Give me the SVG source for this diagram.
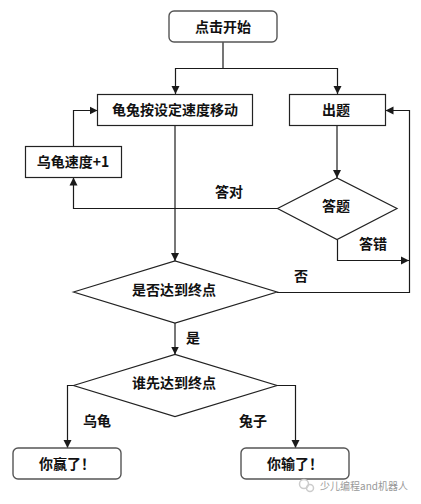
<svg xmlns="http://www.w3.org/2000/svg" width="421" height="504" viewBox="0 0 421 504">
<style>
.b{fill:#fff;stroke:#222;stroke-width:1.2}
.r{fill:#fff;stroke:#555;stroke-width:1.4}
.c{fill:none;stroke:#1a1a1a;stroke-width:1.2}
.g{stroke:#555;stroke-width:1.6}
text{font-family:"Noto Sans CJK SC","Liberation Sans",sans-serif;font-size:14px;font-weight:700;fill:#111;text-anchor:middle}
</style>
<defs>
<marker id="a" markerUnits="userSpaceOnUse" markerWidth="9" markerHeight="9" refX="8" refY="4.5" orient="auto"><path d="M0 0.5L8 4.5L0 8.5Z" fill="#1a1a1a"/></marker>
</defs>
<rect width="421" height="504" fill="#fff"/>
<g id="connectors">
<path class="c" d="M223 42V68.500"/>
<path class="c" d="M223 68.500H175.500V94" marker-end="url(#a)"/>
<path class="c" d="M223 68.500H337.500V94" marker-end="url(#a)"/>
<path class="c g" d="M175 125V261" marker-end="url(#a)"/>
<path class="c g" d="M337 125V178" marker-end="url(#a)"/>
<path class="c" d="M277 208.500H73.500V177.500" marker-end="url(#a)"/>
<path class="c" d="M73.500 146V110.500H97.500" marker-end="url(#a)"/>
<path class="c" d="M337.500 239.500V260.500H409" marker-end="url(#a)"/>
<path class="c" d="M277 292.500H409.500V110.500H385.500" marker-end="url(#a)"/>
<path class="c g" d="M175 323V354.500" marker-end="url(#a)"/>
<path class="c" d="M73 385.500H67.500V448" marker-end="url(#a)"/>
<path class="c" d="M277 385.500H295.500V448" marker-end="url(#a)"/>
</g>
<g id="start"><rect class="r" x="169" y="11" width="108" height="31" rx="5"/><text x="223" y="32">点击开始</text></g>
<g id="move"><rect class="b" x="97.500" y="94.500" width="155" height="31"/><text x="175" y="115">龟兔按设定速度移动</text></g>
<g id="question"><rect class="b" x="289.500" y="94.500" width="96" height="31"/><text x="336" y="115">出题</text></g>
<g id="speedup"><rect class="b" x="25.500" y="146.500" width="96" height="31"/><text x="73" y="167">乌龟速度+1</text></g>
<g id="answer"><path class="b" d="M277.500 208.500L337 178L397 208.500L337 239.500Z"/><text x="336" y="211">答题</text></g>
<g id="reached"><path class="b" d="M73.500 292L175 261L277 292L175 323Z"/><text x="174" y="295">是否达到终点</text></g>
<g id="who"><path class="b" d="M73.500 385.500L175 354.500L277 385.500L175 416.500Z"/><text x="174" y="388">谁先达到终点</text></g>
<g id="win"><rect class="r" x="13" y="448" width="108" height="31" rx="5"/><text x="67" y="469">你赢了！</text></g>
<g id="lose"><rect class="r" x="241" y="448" width="108" height="31" rx="5"/><text x="295" y="469">你输了！</text></g>
<g id="labels">
<text x="229" y="197">答对</text>
<text x="373" y="249">答错</text>
<text x="301" y="281">否</text>
<text x="193" y="343">是</text>
<text x="97" y="426">乌龟</text>
<text x="253" y="426">兔子</text>
</g>
<g id="watermark">
<rect x="300" y="480" width="110" height="16" fill="#fff"/>
<circle cx="304" cy="484" r="4.500" fill="none" stroke="#ccc" stroke-width="1.500"/>
<circle cx="310" cy="488" r="3.500" fill="none" stroke="#ccc" stroke-width="1.500"/>
<text x="364" y="490" style="font-size:10px;font-weight:400;fill:#999">少儿编程and机器人</text>
</g>
</svg>
